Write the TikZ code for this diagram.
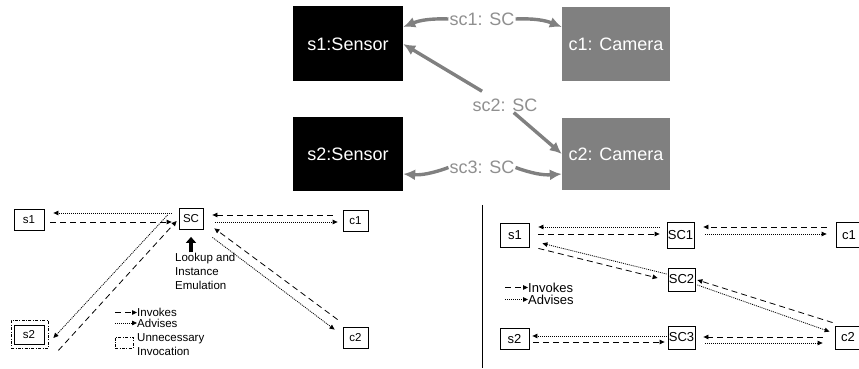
\documentclass[tikz,border=0pt]{standalone}
\usepackage{fontspec}
\setmainfont{Liberation Sans}
\usetikzlibrary{arrows.meta, calc}

\definecolor{scgray}{gray}{0.5}
\definecolor{sctext}{gray}{0.56}

\begin{document}
\begin{tikzpicture}[x=1pt, y=1pt,
  inst/.style={rectangle, inner sep=0pt, minimum width=110pt, minimum height=75pt,
    text=white, font=\fontsize{18}{20}\selectfont},
  sensor/.style={inst, fill=black},
  camera/.style={inst, fill=scgray, minimum width=108pt},
  sclabel/.style={inner sep=1pt, text=sctext, font=\fontsize{18}{20}\selectfont},
  scarrow/.style={draw=scgray, line width=3.4pt, -{Latex[length=12pt,width=11pt]}},
  lbox/.style={draw, line width=0.8pt, inner sep=0pt, minimum height=21pt, font=\fontsize{11.5}{13}\selectfont},
  rbox/.style={draw, line width=0.8pt, inner sep=0pt, minimum height=23pt, font=\fontsize{13}{15}\selectfont},
  unnec/.style={draw, line width=0.6pt, dash pattern=on 3pt off 1.5pt on 0.8pt off 1.5pt},
  inv/.style={line width=0.8pt, dash pattern=on 6pt off 4pt, -{Triangle[length=5pt,width=4.5pt]}},
  adv/.style={line width=0.8pt, dash pattern=on 1pt off 1pt, -{Triangle[length=5pt,width=4.5pt]}},
  emul/.style={line width=4pt, -{Triangle[length=6pt,width=10pt]}},
  ltext/.style={inner sep=0pt, align=left, font=\fontsize{11.5}{14}\selectfont},
  rtext/.style={inner sep=0pt, align=left, font=\fontsize{13}{15}\selectfont}]
\useasboundingbox (0,0) rectangle (859,369);

% Instances and the service connectors between them
\node[sensor] (s1) at (348,325) {s1:Sensor};
\node[camera, minimum height=74pt] (c1) at (616,325) {c1: Camera};
\node[sensor, minimum height=74pt] (s2) at (348,215) {s2:Sensor};
\node[camera, minimum height=72pt] (c2) at (616,215) {c2: Camera};

\node[sclabel] (sc1) at (482,350) {sc1: SC};
\node[sclabel] (sc2) at (505,264) {sc2: SC};
\node[sclabel] (sc3) at (482,201.5) {sc3: SC};

\draw[scarrow] (sc1.west) to[bend right=12] ([yshift=17pt]s1.east);
\draw[scarrow] (sc1.east) to[bend left=12] ([yshift=17pt]c1.west);
\draw[scarrow, shorten <=12pt] (sc2) -- (s1.east);
\draw[scarrow] (sc2) -- (c2.west);
\draw[scarrow] (sc3.west) to[bend left=12] ([yshift=-20pt]s2.east);
\draw[scarrow] (sc3.east) to[bend right=12] ([yshift=-20pt]c2.west);

% Single SC between all sensors and cameras
\node[lbox, minimum width=30pt] (ls1) at (29,149) {s1};
\node[lbox, minimum width=24pt] (lsc) at (191,150) {SC};
\node[lbox, minimum width=25pt] (lc1) at (355.5,148.5) {c1};
\node[lbox, minimum width=25pt] (lc2) at (355.5,31.5) {c2};
\node[lbox, minimum width=30pt, minimum height=19pt] (ls2) at (29,34.5) {s2};
\node[unnec, minimum width=37pt, minimum height=28pt] (ls2u) at (29.5,34.5) {};

\draw[adv, shorten <=7pt, shorten >=9pt] ([yshift=6pt]lsc.west) -- ([yshift=7pt]ls1.east);
\draw[inv, shorten <=6pt, shorten >=7pt] ([yshift=-2pt]ls1.east) -- ([yshift=-3pt]lsc.west);
\draw[inv, shorten <=10pt, shorten >=9pt] ([yshift=5.5pt]lc1.west) -- ([yshift=4pt]lsc.east);
\draw[adv, shorten <=12pt, shorten >=5pt] ([yshift=-3pt]lsc.east) -- ([yshift=-1.5pt]lc1.west);
\draw[inv] ([shift={(-5,7)}]lc2.north west) -- ([shift={(11,1.5)}]lsc.south east);
\draw[adv] ([shift={(9,-7.5)}]lsc.south east) -- ([shift={(-8,-3)}]lc2.north west);
\draw[adv] ([shift={(-11,4)}]lsc.west) -- ([shift={(9,-3.5)}]ls2.east);
\draw[inv] ([shift={(14,-6)}]ls2.south east) -- ([shift={(-2,-2)}]lsc.west);

\node[ltext, anchor=north west] (lookup) at (175,116.5) {Lookup and\\Instance\\Emulation};
\draw[emul] (lsc.south |- lookup.north) -- ([yshift=-7pt]lsc.south);

% Legend
\node[ltext, anchor=west] (linv) at (137,56.5) {Invokes};
\node[ltext, anchor=west] (ladv) at (137,46) {Advises};
\node[ltext, anchor=west] (lunt) at (137,24) {Unnecessary\\Invocation};
\draw[inv] ([xshift=-22pt]linv.west) -- (linv.west);
\draw[adv] ([xshift=-22pt]ladv.west) -- (ladv.west);
\node[unnec, minimum width=18pt, minimum height=11pt] (lunn) at (124,26.5) {};

\draw[line width=0.7pt] (482,164) -- (482,1);

% One SC per sensor and camera pair
\node[rbox, minimum width=29pt, minimum height=24pt] (rs1) at (515,134) {s1};
\node[rbox, minimum width=27pt, minimum height=26pt] (rsc1) at (680.5,134) {SC1};
\node[rbox, minimum width=26pt, minimum height=25pt] (rc1) at (849,134) {c1};
\node[rbox, minimum width=27pt] (rsc2) at (681.5,89.5) {SC2};
\node[rbox, minimum width=29pt, minimum height=21pt] (rs2) at (514.5,30) {s2};
\node[rbox, minimum width=27pt] (rsc3) at (681.5,31.5) {SC3};
\node[rbox, minimum width=26pt] (rc2) at (848,31.5) {c2};

\draw[adv, shorten <=7pt, shorten >=8.5pt] ([yshift=8pt]rsc1.west) -- ([yshift=8pt]rs1.east);
\draw[inv, shorten <=8.5pt, shorten >=7pt] ([yshift=1pt]rs1.east) -- ([yshift=1pt]rsc1.west);
\draw[inv, shorten <=9pt, shorten >=9pt] ([yshift=8pt]rc1.west) -- ([yshift=8pt]rsc1.east);
\draw[adv, shorten <=11pt, shorten >=9pt] ([yshift=1pt]rsc1.east) -- ([yshift=1pt]rc1.west);

\draw[adv] ([shift={(-1,5.5)}]rsc2.west) -- ([shift={(12.5,4)}]rs1.south east);
\draw[inv] ([shift={(8.5,-1)}]rs1.south east) -- ([shift={(-10,1.5)}]rsc2.west);
\draw[inv] ([shift={(-2,3)}]rc2.north west) -- ([shift={(2,-0.5)}]rsc2.east);
\draw[adv] ([shift={(2,-5.5)}]rsc2.east) -- ([shift={(-5,-6)}]rc2.north west);

\draw[adv, shorten <=1pt, shorten >=3pt] ([yshift=1.5pt]rsc3.west) -- ([yshift=3pt]rs2.east);
\draw[inv, shorten <=4pt, shorten >=3pt] ([yshift=-3pt]rs2.east) -- ([yshift=-4.5pt]rsc3.west);
\draw[inv, shorten <=12pt, shorten >=8pt] ([yshift=0.5pt]rc2.west) -- ([yshift=0.5pt]rsc3.east);
\draw[adv, shorten <=10pt, shorten >=12pt] ([yshift=-5.5pt]rsc3.east) -- ([yshift=-5.5pt]rc2.west);

\node[rtext, anchor=west] (rinv) at (528,81.5) {Invokes};
\node[rtext, anchor=west] (radv) at (528,69.5) {Advises};
\draw[inv] ([xshift=-23pt]rinv.west) -- (rinv.west);
\draw[adv] ([xshift=-23pt]radv.west) -- (radv.west);
\end{tikzpicture}
\end{document}
